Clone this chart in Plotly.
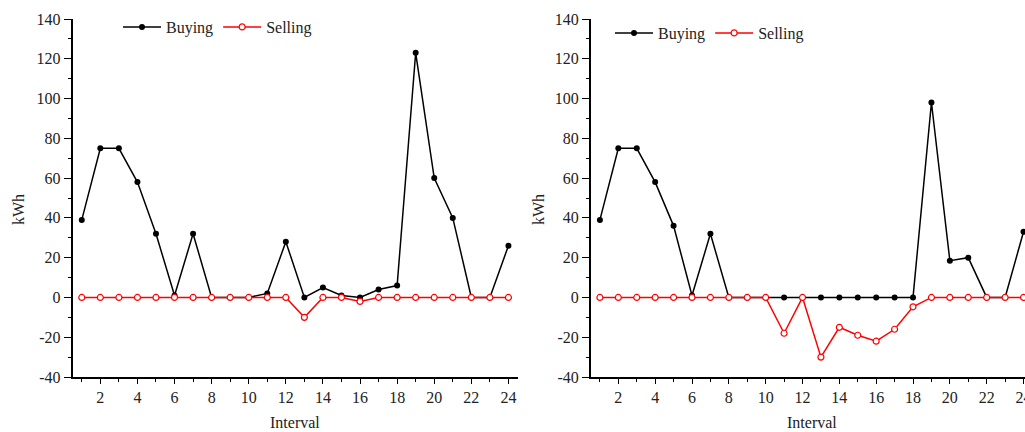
import plotly.graph_objects as go

intervals = list(range(1, 25))
buy_left = [39, 75, 75, 58, 32, 1, 32, 0, 0, 0, 2, 28, 0, 5, 1, 0, 4, 6, 123, 60, 40, 0, 0, 26]
sell_left = [0, 0, 0, 0, 0, 0, 0, 0, 0, 0, 0, 0, -10, 0, 0, -2, 0, 0, 0, 0, 0, 0, 0, 0]
buy_right = [39, 75, 75, 58, 36, 1, 32, 0, 0, 0, 0, 0, 0, 0, 0, 0, 0, 0, 98, 18.5, 20, 0, 0, 33]
sell_right = [0, 0, 0, 0, 0, 0, 0, 0, 0, 0, -18, 0, -30, -15, -19, -22, -16, -4.7, 0, 0, 0, 0, 0, 0]

y_tickvals = [-40, -20, 0, 20, 40, 60, 80, 100, 120, 140]
y_ticktext = ["-40", "-20", "0", "20", "40", "60", "80", "100", "120", "140"]

FONT = "Liberation Serif"
W, H = 1025, 432
T, B = 19, 55

fig = go.Figure()

def add_pair(buy, sell, xa, ya, leg):
    fig.add_trace(go.Scatter(
        x=intervals, y=buy, mode="lines+markers", name="Buying",
        line=dict(color="black", width=1.5),
        marker=dict(symbol="circle", size=6, color="black"),
        xaxis=xa, yaxis=ya, legend=leg, cliponaxis=False))
    fig.add_trace(go.Scatter(
        x=intervals, y=sell, mode="lines+markers", name="Selling",
        line=dict(color="#ff0000", width=1.5),
        marker=dict(symbol="circle", size=6, color="white",
                    line=dict(color="#ff0000", width=1.2)),
        xaxis=xa, yaxis=ya, legend=leg, cliponaxis=False))

add_pair(buy_left, sell_left, "x", "y", "legend")
add_pair(buy_right, sell_right, "x2", "y2", "legend2")

def xaxis_cfg(domain, rng):
    return dict(domain=domain, range=rng,
                showline=True, linecolor="black", linewidth=1.5,
                showgrid=False, zeroline=False,
                ticks="outside", ticklen=5, tickwidth=1.2, tickcolor="black",
                tick0=0, dtick=2,
                minor=dict(ticks="outside", ticklen=3, tickwidth=1.2, tickcolor="black",
                           dtick=1, tick0=0, showgrid=False),
                tickfont=dict(family=FONT, size=16, color="#222"),
                ticklabeloverflow="allow",
                automargin=False, fixedrange=True)

def yaxis_cfg():
    return dict(domain=[0, 1], range=[-40, 140],
                showline=True, linecolor="black", linewidth=1.5,
                showgrid=False, zeroline=False,
                ticks="outside", ticklen=7, tickwidth=1.2, tickcolor="black",
                tickmode="array", tickvals=y_tickvals, ticktext=y_ticktext,
                minor=dict(ticks="outside", ticklen=3, tickwidth=1.2, tickcolor="black",
                           dtick=10, tick0=0, showgrid=False),
                tickfont=dict(family=FONT, size=16, color="#222"),
                automargin=False, fixedrange=True)

lx0, lx1 = 72.5 / W, 517.7 / W
rx0, rx1 = 590.7 / W, 1.0

xa1 = xaxis_cfg([lx0, lx1], [0.5, 24.5]); xa1["anchor"] = "y"
xa2 = xaxis_cfg([rx0, rx1], [0.5, 24.08]); xa2["anchor"] = "y2"
ya1 = yaxis_cfg(); ya1["anchor"] = "x"
ya2 = yaxis_cfg(); ya2["anchor"] = "x2"

ph = H - T - B
def py(pix):
    return (H - B - pix) / ph

fig.update_layout(
    width=W, height=H,
    margin=dict(l=0, r=0, t=T, b=B, pad=0),
    paper_bgcolor="white", plot_bgcolor="white",
    xaxis=xa1, xaxis2=xa2, yaxis=ya1, yaxis2=ya2,
    font=dict(family=FONT, size=16, color="#222"),
    legend=dict(orientation="h", x=118 / W, xanchor="left", y=py(27), yanchor="middle",
                bgcolor="rgba(0,0,0,0)", font=dict(family=FONT, size=16, color="#222"),
                itemwidth=38, tracegroupgap=0),
    legend2=dict(orientation="h", x=610 / W, xanchor="left", y=py(33), yanchor="middle",
                 bgcolor="rgba(0,0,0,0)", font=dict(family=FONT, size=16, color="#222"),
                 itemwidth=38, tracegroupgap=0),
    annotations=[
        dict(text="kWh", x=18 / W, y=py(210), xref="paper", yref="paper", textangle=-90,
             showarrow=False, font=dict(family=FONT, size=16, color="#222"),
             xanchor="center", yanchor="middle"),
        dict(text="kWh", x=538 / W, y=py(210), xref="paper", yref="paper", textangle=-90,
             showarrow=False, font=dict(family=FONT, size=16, color="#222"),
             xanchor="center", yanchor="middle"),
        dict(text="Interval", x=295 / W, y=py(422), xref="paper", yref="paper",
             showarrow=False, font=dict(family=FONT, size=16, color="#222"),
             xanchor="center", yanchor="middle"),
        dict(text="Interval", x=812 / W, y=py(422), xref="paper", yref="paper",
             showarrow=False, font=dict(family=FONT, size=16, color="#222"),
             xanchor="center", yanchor="middle"),
    ],
    showlegend=True,
)

fig.write_html("out.html")
